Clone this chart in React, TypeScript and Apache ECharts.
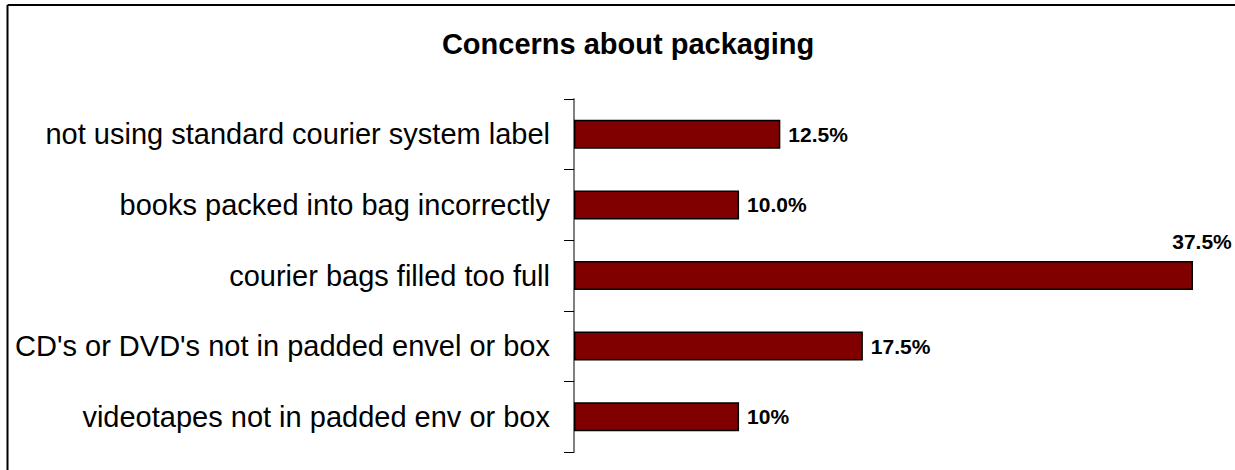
import React, { useEffect, useRef } from "react";
import * as echarts from "echarts";

const categories = [
  "not using standard courier system label",
  "books packed into bag incorrectly",
  "courier bags filled too full",
  "CD's or DVD's not in padded envel or box",
  "videotapes not in padded env or box",
];
const values = [12.5, 10.0, 37.5, 17.5, 10];
const valueLabels = ["12.5%", "10.0%", "37.5%", "17.5%", "10%"];
const chartTitle = "Concerns about packaging";

const FONT = "'Liberation Sans', Arial, Helvetica, sans-serif";

export default function App() {
  const ref = useRef<HTMLDivElement>(null);
  useEffect(() => {
    if (!ref.current) return;
    const chart = echarts.init(ref.current, null, { renderer: "svg" });
    const data = values.map((v, i) => {
      const item: any = { value: v };
      if (i === 2) {
        item.label = {
          position: ["100%", 0],
          align: "center",
          verticalAlign: "middle",
          offset: [9, -20],
        };
      }
      return item;
    });
    chart.setOption({
      animation: false,
      backgroundColor: "#ffffff",
      title: {
        text: chartTitle,
        left: 623,
        top: 24,
        textAlign: "center",
        textStyle: {
          fontFamily: FONT,
          fontSize: 29,
          fontWeight: "bold",
          color: "#000",
        },
      },
      graphic: [
        {
          type: "line",
          shape: { x1: 7.5, y1: 5, x2: 1235, y2: 5 },
          style: { stroke: "#000", lineWidth: 2 },
          silent: true,
        },
        {
          type: "line",
          shape: { x1: 7.5, y1: 5, x2: 7.5, y2: 475 },
          style: { stroke: "#000", lineWidth: 2 },
          silent: true,
        },
      ],
      grid: { left: 574, right: 42, top: 99, bottom: 18, containLabel: false },
      xAxis: {
        type: "value",
        min: 0,
        max: 37.5,
        show: false,
      },
      yAxis: {
        type: "category",
        data: categories,
        inverse: true,
        axisLine: { show: true, lineStyle: { color: "#808080", width: 2 } },
        axisTick: { show: true, length: 10, lineStyle: { color: "#000", width: 1 } },
        axisLabel: {
          fontFamily: FONT,
          fontSize: 29,
          color: "#000",
          margin: 24,
        },
        splitLine: { show: false },
      },
      series: [
        {
          type: "bar",
          data,
          barWidth: 29,
          itemStyle: { color: "#800000", borderColor: "#000", borderWidth: 1.5 },
          label: {
            show: true,
            position: "right",
            distance: 8,
            fontFamily: FONT,
            fontSize: 21,
            fontWeight: "bold",
            color: "#000",
            formatter: (p: any) => valueLabels[p.dataIndex],
          },
        },
      ],
    });
    return () => chart.dispose();
  }, []);
  return (
    <div
      ref={ref}
      style={{ position: "absolute", left: 0, top: 0, width: 1235, height: 470 }}
    />
  );
}
